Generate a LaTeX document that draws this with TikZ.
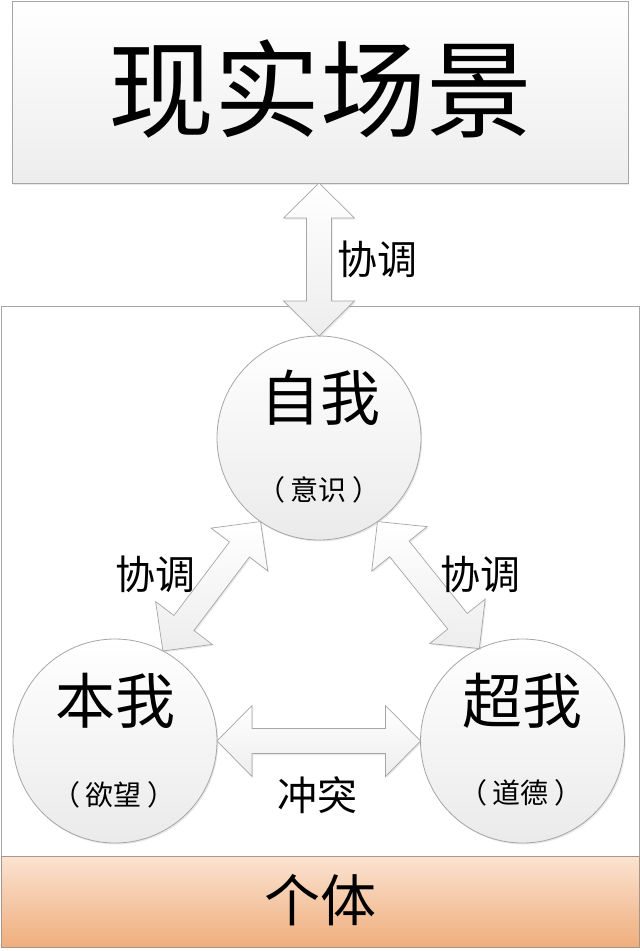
\documentclass[tikz,border=0pt]{standalone}
\usepackage{fontspec}
\setmainfont{Noto Sans CJK SC}
\usetikzlibrary{calc,shadows}
\definecolor{edgegray}{HTML}{A6A6A6}
\definecolor{orangetop}{HTML}{FBE3D2}
\definecolor{orangebot}{HTML}{EFAE7C}
\definecolor{orangeedge}{HTML}{A8958A}
\tikzset{
  softshadow/.style={drop shadow={opacity=0.18, shadow xshift=1.2pt, shadow yshift=-1.5pt}},
  psyche/.style={circle, minimum size=204pt, inner sep=0pt, outer sep=0pt, draw=edgegray, line width=0.8pt,
    top color=white, bottom color=black!8, softshadow},
  barrow/.style={draw=edgegray, line width=0.7pt, line join=miter, top color=white, bottom color=black!7, softshadow},
  bigtxt/.style={inner sep=0pt, font=\fontsize{60pt}{60pt}\selectfont},
  subtxt/.style={inner sep=0pt, font=\fontsize{28pt}{28pt}\selectfont},
  lbltxt/.style={inner sep=0pt, font=\fontsize{40pt}{40pt}\selectfont},
}
\newcommand\dblarrow[2]{%
  \draw[barrow] (#1)
    -- ($(#1)!35pt!(#2)!35.5pt!90:(#2)$)
    -- ($(#1)!35pt!(#2)!12.5pt!90:(#2)$)
    -- ($(#2)!35pt!(#1)!12.5pt!-90:(#1)$)
    -- ($(#2)!35pt!(#1)!35.5pt!-90:(#1)$)
    -- (#2)
    -- ($(#2)!35pt!(#1)!35.5pt!90:(#1)$)
    -- ($(#2)!35pt!(#1)!12.5pt!90:(#1)$)
    -- ($(#1)!35pt!(#2)!12.5pt!-90:(#2)$)
    -- ($(#1)!35pt!(#2)!35.5pt!-90:(#2)$)
    -- cycle;}
\newcommand\paren[1]{（\hspace{6pt}#1\hspace{6pt}）}
\begin{document}
\begin{tikzpicture}[x=1pt,y=1pt]
\fill[white] (0,0) rectangle (640,-951);
\useasboundingbox (0,0) rectangle (640,-951);

% outer frame (individual)
\node[draw=edgegray, line width=0.8pt, minimum width=638pt, minimum height=550pt, inner sep=0pt, outer sep=0pt] (frame) at (320,-581) {};
% bottom orange bar
\node[draw=orangeedge, line width=0.8pt, top color=orangetop, bottom color=orangebot, minimum width=638pt, minimum height=91pt, inner sep=0pt, outer sep=0pt] (indiv) at (320,-901.5) {};
\node[inner sep=0pt, font=\fontsize{56pt}{56pt}\selectfont] (indivtxt) at (320,-900) {个体};

% top box (reality)
\node[draw=edgegray, line width=0.8pt, top color=white, bottom color=black!7, softshadow, minimum width=616pt, minimum height=182pt, inner sep=0pt, outer sep=0pt] (reality) at (320,-92) {};
\node[inner sep=0pt, font=\fontsize{106pt}{106pt}\selectfont] (realitytxt) at (320,-89) {现实场景};

% three circles
\node[psyche] (ego) at (319,-438) {};
\node[psyche] (id) at (115,-741) {};
\node[psyche] (sup) at (522.5,-741) {};

\node[bigtxt] (egotxt) at (320,-398) {自我};
\node[subtxt] (egosub) at (319,-490) {\paren{意识}};
\node[bigtxt] (idtxt) at (115,-701) {本我};
\node[subtxt] (idsub) at (114,-795) {\paren{欲望}};
\node[bigtxt] (suptxt) at (522,-701) {超我};
\node[subtxt] (supsub) at (521,-793) {\paren{道德}};

% arrows
\coordinate (topfoot) at (reality.south -| ego.north);
\dblarrow{topfoot}{ego.north}
\dblarrow{ego.235}{id.62}
\dblarrow{ego.305}{sup.115}
\dblarrow{id.east}{sup.west}

% labels
\node[lbltxt] (lblTop) at (377,-259) {协调};
\node[lbltxt] (lblLeft) at (155,-574) {协调};
\node[lbltxt] (lblRight) at (480,-574) {协调};
\node[lbltxt] (lblConflict) at (317,-795) {冲突};
\end{tikzpicture}
\end{document}
